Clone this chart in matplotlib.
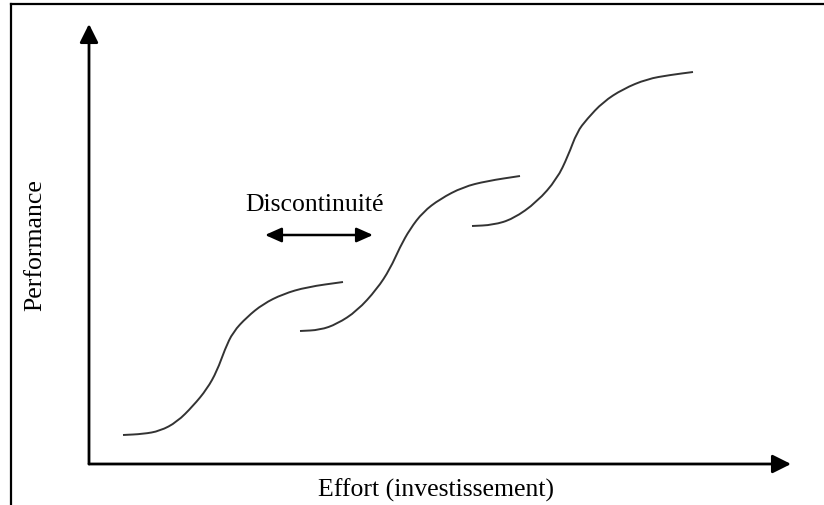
import matplotlib
matplotlib.use("Agg")
import matplotlib.pyplot as plt
from matplotlib.lines import Line2D
from matplotlib.path import Path
from matplotlib.patches import PathPatch

# Data (effort, performance) in arbitrary units; origin at the axes corner
curve1_x = [34, 54, 71, 88, 104, 118, 128, 136, 144, 158, 174, 194, 218, 254]
curve1_y = [29, 30, 33, 42, 58, 75, 93, 115, 132, 147, 160, 170, 177, 182]
curve2_x = [211, 231, 248, 268, 288, 301, 311, 321, 334, 351, 374, 398, 431]
curve2_y = [133, 134, 140, 153, 175, 195, 217, 235, 252, 265, 277, 283, 288]
curve3_x = [383, 404, 424, 448, 468, 479, 488, 498, 514, 534, 558, 581, 604]
curve3_y = [238, 239, 245, 262, 285, 308, 332, 345, 362, 375, 385, 389, 392]

x_label = "Effort (investissement)"
y_label = "Performance"
gap_label = "Discontinuité"
gap_arrow_x = [176, 284]
gap_arrow_y = 229

W, H = 824, 506
fig = plt.figure(figsize=(W / 100, H / 100), dpi=100)
ax = fig.add_axes([0, 0, 1, 1])
ax.set_xlim(-89, W - 89)
ax.set_ylim(-(H - 465), 465)
ax.axis("off")

serif = ["Liberation Serif", "DejaVu Serif"]
fs = 18.5

# axes arrows
ax.annotate("", xy=(0, 440), xytext=(0, 0),
            arrowprops=dict(arrowstyle="-|>,head_length=0.4,head_width=0.2",
                            mutation_scale=28, lw=2.0, color="black",
                            shrinkA=0, shrinkB=0))
ax.annotate("", xy=(702, 0), xytext=(0, 0),
            arrowprops=dict(arrowstyle="-|>,head_length=0.4,head_width=0.2",
                            mutation_scale=28, lw=2.0, color="black",
                            shrinkA=0, shrinkB=0))


def smooth_path(xs, ys):
    pts = list(zip(xs, ys))
    verts = [pts[0]]
    codes = [Path.MOVETO]
    # quadratic B-spline style: points act as control points, pass through midpoints
    mid0 = ((pts[0][0] + pts[1][0]) / 2, (pts[0][1] + pts[1][1]) / 2)
    verts.append(mid0)
    codes.append(Path.LINETO)
    for i in range(1, len(pts) - 1):
        mid = ((pts[i][0] + pts[i + 1][0]) / 2, (pts[i][1] + pts[i + 1][1]) / 2)
        verts += [pts[i], mid]
        codes += [Path.CURVE3, Path.CURVE3]
    verts.append(pts[-1])
    codes.append(Path.LINETO)
    return Path(verts, codes)


# curves
for cx, cy in [(curve1_x, curve1_y), (curve2_x, curve2_y), (curve3_x, curve3_y)]:
    ax.add_patch(PathPatch(smooth_path(cx, cy), facecolor="none",
                           edgecolor="#333333", lw=1.4, capstyle="butt",
                           joinstyle="round"))

# discontinuity double arrow
ax.annotate("", xy=(gap_arrow_x[1], gap_arrow_y), xytext=(gap_arrow_x[0], gap_arrow_y),
            arrowprops=dict(arrowstyle="<|-|>,head_length=0.45,head_width=0.2",
                            mutation_scale=22, lw=1.8, color="black",
                            shrinkA=0, shrinkB=0))
ax.text(226, 260, gap_label, family=serif, fontsize=fs, ha="center", va="center")

# labels
ax.text(347, -25, x_label, family=serif, fontsize=fs, ha="center", va="center")
ax.text(-54, 220, y_label, family=serif, fontsize=fs, ha="center", va="center",
        rotation=90)

# frame (top and left only)
fig.add_artist(Line2D([11 / W, 11 / W], [0, 1 - 5 / H], transform=fig.transFigure,
                      color="black", lw=1.6))
fig.add_artist(Line2D([11 / W, 1], [1 - 5 / H, 1 - 5 / H], transform=fig.transFigure,
                      color="black", lw=1.6))

fig.savefig("out.png", dpi=100)
